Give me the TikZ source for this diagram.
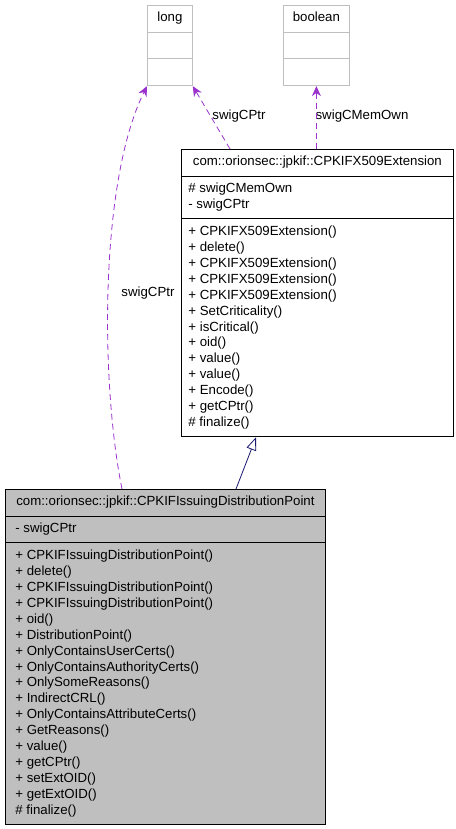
\documentclass[tikz,border=0pt]{standalone}
\usepackage{fontspec}
\setmainfont{Liberation Sans}
\usetikzlibrary{shapes.multipart,arrows.meta,calc}

\definecolor{edgepurple}{HTML}{9A32CD}
\definecolor{edgenavy}{HTML}{191970}
\definecolor{classgray}{HTML}{BFBFBF}

\tikzset{
    classbox/.style={rectangle split, rectangle split parts=3,
        rectangle split part align={center,left,left},
        draw=black, line width=0.8bp, anchor=north west,
        font=\fontsize{13.3}{16}\selectfont, align=left,
        inner xsep=7bp, inner ysep=5bp},
    typebox/.style={classbox, draw=classgray},
    usage/.style={draw=edgepurple, line width=0.8bp, dash pattern=on 6bp off 4bp,
        -{Stealth[length=10bp,width=9bp]}},
    inherit/.style={draw=edgenavy, line width=0.8bp,
        -{Triangle[open,length=13bp,width=10bp,fill=white]}},
    edgelabel/.style={font=\fontsize{13.3}{16}\selectfont, inner sep=0pt}
}

\begin{document}
\begin{tikzpicture}[x=1bp,y=-1bp]
        \useasboundingbox (0,0) rectangle (456,829);

        % the classes
        \node[typebox, minimum width=45bp] (long) at (147,5)
            {\strut long
             \nodepart{two}\rule{0pt}{15bp}
             \nodepart{three}\rule{0pt}{17bp}};
        \node[typebox, minimum width=66bp] (boolean) at (283,5)
            {\strut boolean
             \nodepart{two}\rule{0pt}{15bp}
             \nodepart{three}\rule{0pt}{17bp}};
        \node[classbox, minimum width=272bp] (ext) at (181,149)
            {\strut com::orionsec::jpkif::CPKIFX509Extension
             \nodepart{two}\strut\# swigCMemOwn\\
                 \strut- swigCPtr
             \nodepart{three}\strut+ CPKIFX509Extension()\\
                 \strut+ delete()\\
                 \strut+ CPKIFX509Extension()\\
                 \strut+ CPKIFX509Extension()\\
                 \strut+ CPKIFX509Extension()\\
                 \strut+ SetCriticality()\\
                 \strut+ isCritical()\\
                 \strut+ oid()\\
                 \strut+ value()\\
                 \strut+ value()\\
                 \strut+ Encode()\\
                 \strut+ getCPtr()\\
                 \strut\# finalize()};
        \node[classbox, fill=classgray, inner xsep=10bp, minimum width=320bp] (idp) at (5,489)
            {\strut com::orionsec::jpkif::CPKIFIssuingDistributionPoint
             \nodepart{two}\strut- swigCPtr
             \nodepart{three}\strut+ CPKIFIssuingDistributionPoint()\\
                 \strut+ delete()\\
                 \strut+ CPKIFIssuingDistributionPoint()\\
                 \strut+ CPKIFIssuingDistributionPoint()\\
                 \strut+ oid()\\
                 \strut+ DistributionPoint()\\
                 \strut+ OnlyContainsUserCerts()\\
                 \strut+ OnlyContainsAuthorityCerts()\\
                 \strut+ OnlySomeReasons()\\
                 \strut+ IndirectCRL()\\
                 \strut+ OnlyContainsAttributeCerts()\\
                 \strut+ GetReasons()\\
                 \strut+ value()\\
                 \strut+ getCPtr()\\
                 \strut+ setExtOID()\\
                 \strut+ getExtOID()\\
                 \strut\# finalize()};

        % member labels
        \node[edgelabel] (idpptr) at (148,293) {swigCPtr};
        \node[edgelabel] (extptr) at (239,116) {swigCPtr};
        \node[edgelabel] (extown) at (362,116) {swigCMemOwn};

        \path[usage] ($(idp.north west)+(117,0)$)
            .. controls (100,380) and (100,180) .. (long.south west);
        \path[usage] ($(ext.north west)+(49,0)$) -- (long.south east);
        \path[usage] (boolean.south |- ext.north) -- (boolean.south);
        \path[inherit] ($(idp.north west)+(231,0)$) -- ($(ext.south west)+(75,0)$);
    \end{tikzpicture}
\end{document}
